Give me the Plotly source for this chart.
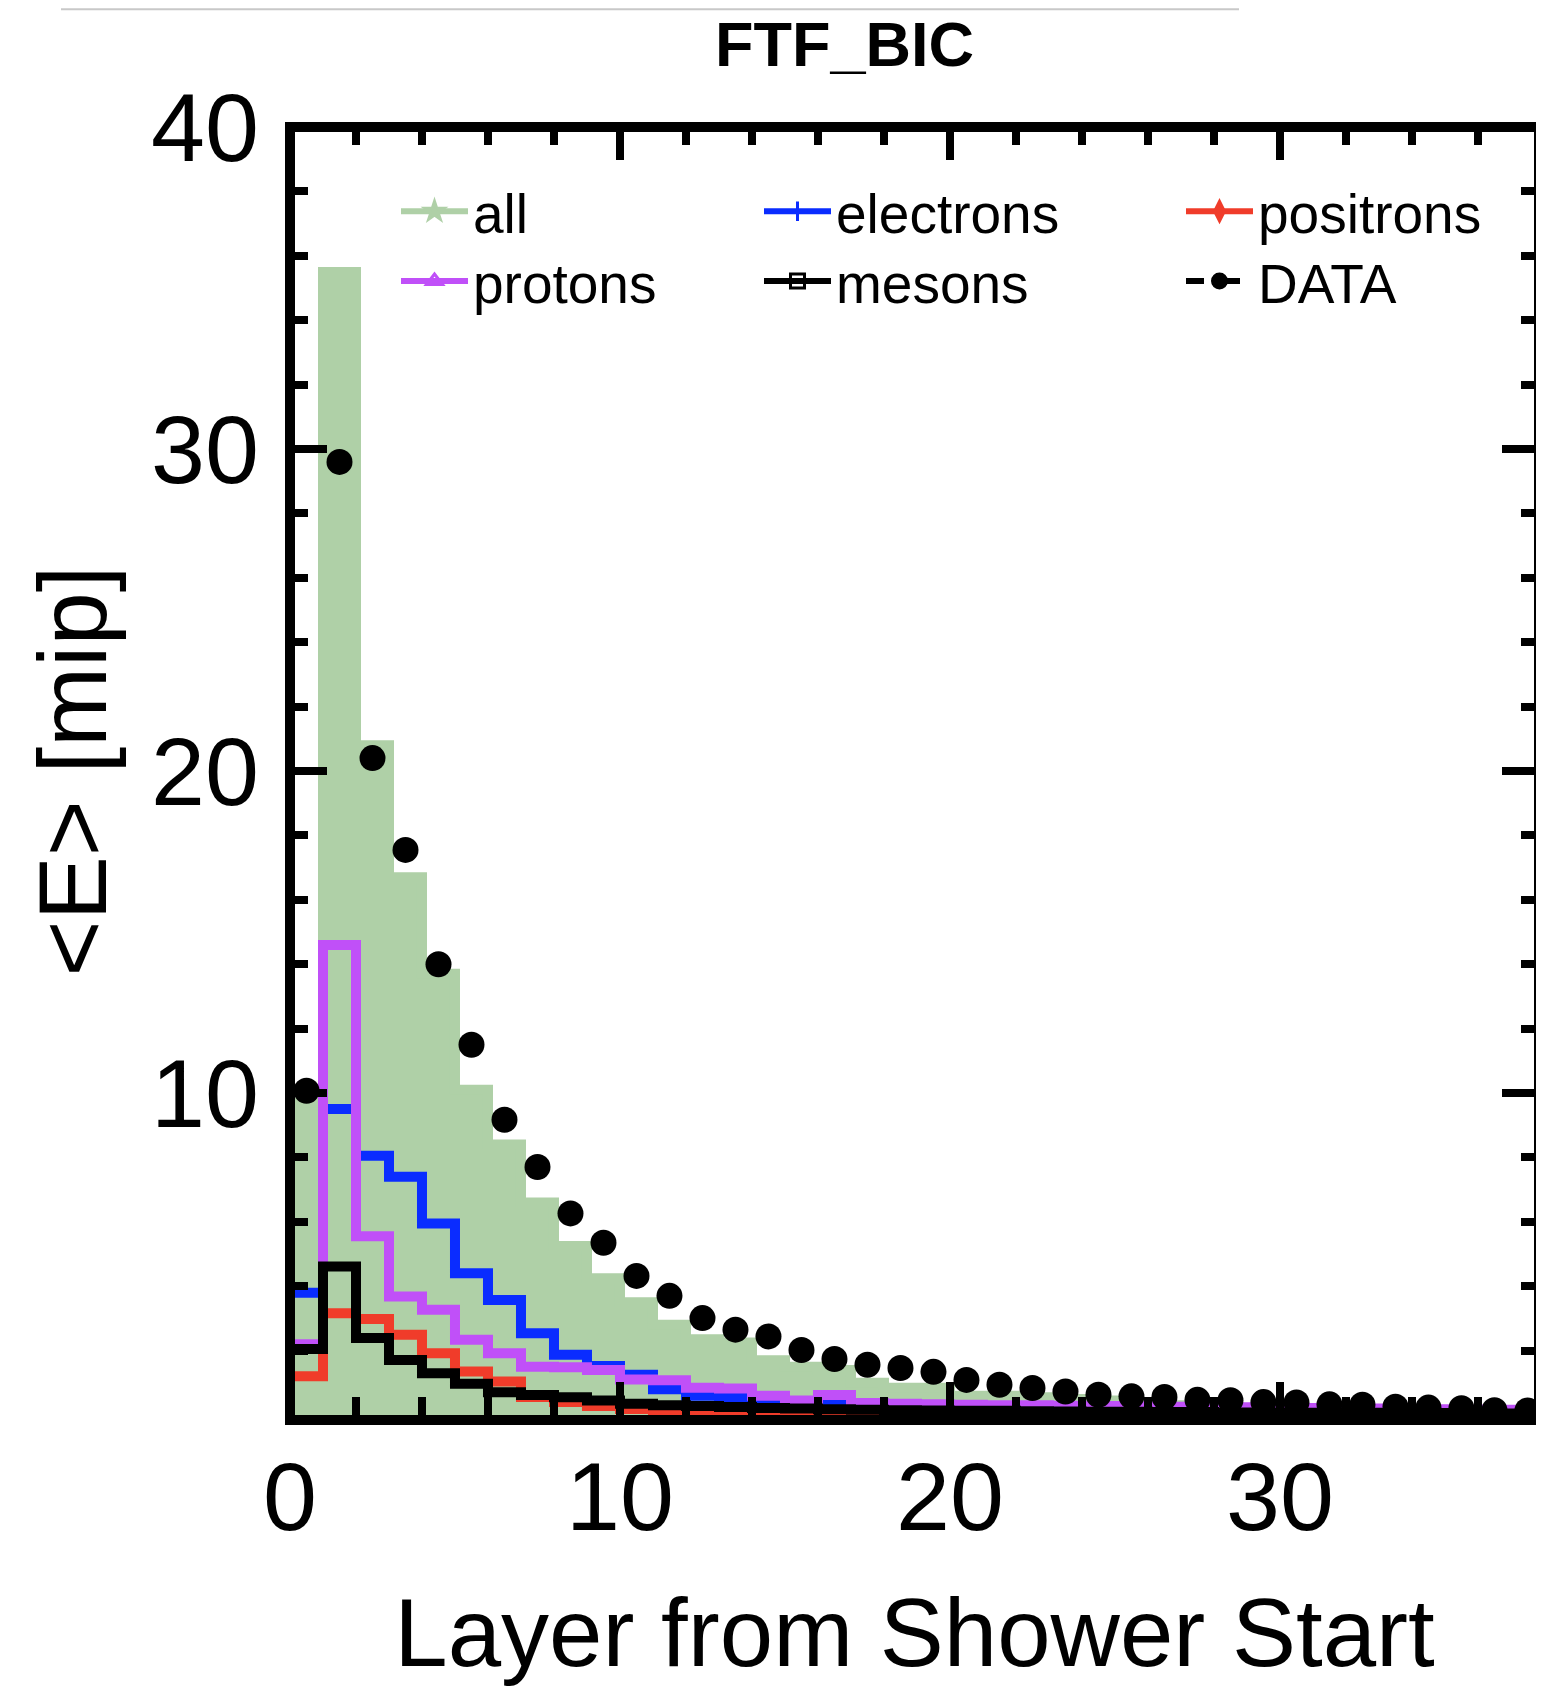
import plotly.graph_objects as go

# ---------------- data ----------------
LAYER_EDGES = list(range(0, 39))          # bin edges of "Layer from Shower Start"

ALL = [9.7, 35.5, 20.8, 16.7, 13.7, 10.1, 8.4, 6.6, 5.25, 4.25,
       3.5, 2.8, 2.35, 2.25, 1.7, 1.5, 1.4, 1.0, 0.85, 0.85,
       0.6, 0.6, 0.55, 0.5, 0.45, 0.35, 0.3, 0.25, 0.22, 0.2,
       0.18, 0.16, 0.15, 0.13, 0.12, 0.1, 0.1, 0.08]

ELECTRONS = [3.8, 9.5, 8.05, 7.4, 5.95, 4.4, 3.57, 2.54, 1.87, 1.52,
             1.25, 0.8, 0.6, 0.55, 0.4, 0.3, 0.37, 0.25, 0.22, 0.2,
             0.18, 0.17, 0.16, 0.15, 0.14, 0.13, 0.12, 0.11, 0.1, 0.1,
             0.09, 0.08, 0.08, 0.07, 0.07, 0.06, 0.06, 0.05]

POSITRONS = [1.2, 3.16, 2.98, 2.49, 1.92, 1.35, 1.04, 0.56, 0.4, 0.28,
             0.19, 0.15, 0.12, 0.1, 0.09, 0.08, 0.07, 0.06, 0.05, 0.05,
             0.04, 0.04, 0.04, 0.03, 0.03, 0.03, 0.03, 0.02, 0.02, 0.02,
             0.02, 0.02, 0.02, 0.01, 0.01, 0.01, 0.01, 0.01]

PROTONS = [2.2, 14.6, 5.55, 3.68, 3.27, 2.34, 1.92, 1.5, 1.48, 1.4,
           1.1, 1.08, 0.85, 0.82, 0.6, 0.45, 0.62, 0.37, 0.35, 0.33,
           0.32, 0.3, 0.3, 0.29, 0.28, 0.27, 0.26, 0.25, 0.24, 0.23,
           0.22, 0.21, 0.2, 0.19, 0.18, 0.17, 0.16, 0.15]

MESONS = [2.05, 4.61, 2.39, 1.71, 1.3, 0.97, 0.71, 0.62, 0.55, 0.45,
          0.35, 0.3, 0.28, 0.25, 0.22, 0.2, 0.18, 0.16, 0.15, 0.14,
          0.13, 0.13, 0.12, 0.11, 0.1, 0.1, 0.09, 0.09, 0.08, 0.08,
          0.07, 0.07, 0.07, 0.06, 0.06, 0.05, 0.05, 0.05]

DATA = [10.07, 29.6, 20.4, 17.55, 14.0, 11.5, 9.17, 7.7, 6.26, 5.35,
        4.32, 3.70, 3.01, 2.65, 2.44, 2.02, 1.74, 1.56, 1.46, 1.34,
        1.09, 0.94, 0.84, 0.73, 0.63, 0.58, 0.56, 0.47, 0.46, 0.40,
        0.39, 0.33, 0.32, 0.26, 0.23, 0.21, 0.15, 0.14]

X_TICKS = [0, 10, 20, 30]
Y_TICKS = [0, 10, 20, 30, 40]
Y_TICK_TEXT = ["", "10", "20", "30", "40"]

TITLE = "FTF_BIC"
X_TITLE = "Layer from Shower Start"
Y_TITLE = "&lt;E&gt; [mip]"

# ---------------- style ----------------
GREEN = "#afd0a7"
BLUE = "#0a2cff"
RED = "#f03c2a"
PURPLE = "#c050f8"
BLACK = "#000000"
FONT = "Liberation Sans, Arial, Helvetica, sans-serif"

# the page body adds an 8 px margin, so the figure is 8 px smaller/shifted
W, H = 1536, 1678
L, R, T, B = 282, 5, 119, 269
PW, PH = W - L - R, H - T - B
X_RANGE = [0, 37.85]
Y_RANGE = [0, 40]


def px_x(x):      # figure-pixel -> paper fraction (horizontal)
    return (x - L) / PW


def px_y(y):      # figure-pixel -> paper fraction (vertical)
    return (H - B - y) / PH


def steps(vals):
    return vals + [vals[-1]]


centers = [(a + b) / 2 for a, b in zip(LAYER_EDGES[:-1], LAYER_EDGES[1:])]

fig = go.Figure()

# filled "all" histogram
fig.add_trace(go.Scatter(
    x=LAYER_EDGES, y=steps(ALL), mode="lines",
    line=dict(shape="hv", color=GREEN, width=10),
    fill="tozeroy", fillcolor=GREEN,
    showlegend=False, hoverinfo="skip"))

for vals, col in [(ELECTRONS, BLUE), (PROTONS, PURPLE), (POSITRONS, RED), (MESONS, BLACK)]:
    fig.add_trace(go.Scatter(
        x=LAYER_EDGES, y=steps(vals), mode="lines",
        line=dict(shape="hv", color=col, width=10),
        showlegend=False, hoverinfo="skip"))

fig.add_trace(go.Scatter(
    x=centers, y=DATA, mode="markers",
    marker=dict(color=BLACK, size=26),
    showlegend=False, hoverinfo="skip"))

# legend entries: one small legend per entry (3 columns x 2 rows)
legend_items = [
    ("all", GREEN, "star", "solid", "legend"),
    ("electrons", BLUE, "cross-thin-open", "solid", "legend2"),
    ("positrons", RED, "diamond-tall", "solid", "legend3"),
    ("protons", PURPLE, "triangle-up-open", "solid", "legend4"),
    ("mesons", BLACK, "square-open", "solid", "legend5"),
    ("DATA", BLACK, "circle", "dash", "legend6"),
]
for name, col, sym, dash, lg in legend_items:
    fig.add_trace(go.Scatter(
        x=[None], y=[None], mode="lines+markers", name=name,
        line=dict(color=col, width=6, dash=dash),
        marker=dict(symbol=sym, size=14, color=col,
                    line=dict(color=col, width=3)),
        legend=lg))

col_left_x = [396 - 8, 759 - 8, 1181 - 8]      # legend box left edges
row_center_y = [205, 275]                       # legend row centres
ITEMW = 67
legends = {}
for i, (_, _, _, _, lg) in enumerate(legend_items):
    c, r = i % 3, i // 3
    legends[lg] = dict(
        x=px_x(col_left_x[c]), y=px_y(row_center_y[r] - 44),
        xanchor="left", yanchor="top",
        font=dict(family=FONT, size=55, color=BLACK),
        bgcolor="rgba(0,0,0,0)", itemwidth=ITEMW, tracegroupgap=0)

axis_common = dict(
    showline=False, showgrid=False, zeroline=False,
    ticks="inside", mirror="allticks", tickcolor=BLACK, tickwidth=8,
    tickfont=dict(family=FONT, size=97, color=BLACK),
)

fig.update_layout(
    width=W, height=H,
    margin=dict(l=L, r=R, t=T, b=B),
    paper_bgcolor="white", plot_bgcolor="white",
    font=dict(family=FONT, color=BLACK),
    xaxis=dict(range=X_RANGE, ticklen=33, tickvals=X_TICKS,
               minor=dict(dtick=2, tick0=0, ticks="inside", ticklen=18, tickwidth=8, tickcolor=BLACK),
               title=dict(text=X_TITLE, font=dict(family=FONT, size=96), standoff=63),
               ticklabelstandoff=17,
               **axis_common),
    yaxis=dict(range=Y_RANGE, ticklen=37, tickvals=Y_TICKS, ticktext=Y_TICK_TEXT,
               minor=dict(dtick=2, tick0=0, ticks="inside", ticklen=18, tickwidth=8, tickcolor=BLACK),
               title=dict(text=Y_TITLE, font=dict(family=FONT, size=96), standoff=12),
               ticklabelstandoff=30,
               **axis_common),
    shapes=[
        # frame
        dict(type="rect", xref="paper", yref="paper", x0=0, x1=1, y0=-5 / PH, y1=1,
             line=dict(color=BLACK, width=10), fillcolor="rgba(0,0,0,0)", layer="above"),
        # thin grey rule at the very top
        dict(type="line", xref="paper", yref="paper",
             x0=px_x(61 - 8), x1=px_x(1239 - 8), y0=px_y(1), y1=px_y(1),
             line=dict(color="#c8c8c8", width=2)),
    ],
    annotations=[
        dict(text="<b>" + TITLE + "</b>", xref="paper", yref="paper",
             x=px_x(844 - 8), y=px_y(36), height=66,
             xanchor="center", yanchor="middle", valign="middle", showarrow=False,
             font=dict(family=FONT, size=63, color=BLACK)),
    ],
    **legends,
)

fig.write_html("out.html")
